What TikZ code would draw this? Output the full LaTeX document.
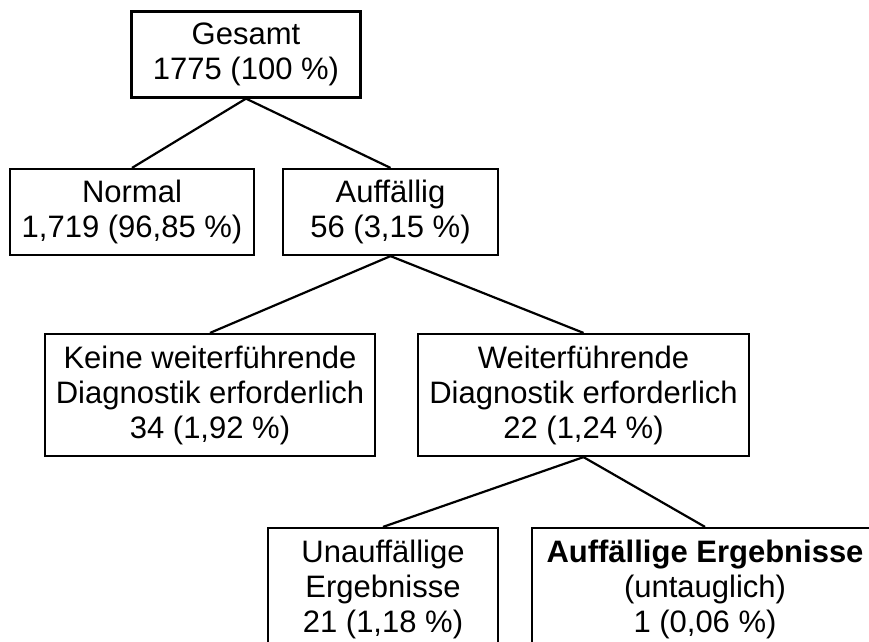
\documentclass[tikz,border=0pt]{standalone}
\usepackage{fontspec}
\setmainfont{Liberation Sans}
\begin{document}
\begin{tikzpicture}[x=1pt, y=-1pt, line width=2.2pt,
  box/.style={draw, align=center, inner sep=0pt, minimum height=86pt},
  tall/.style={box, minimum height=122pt}]
  \useasboundingbox (0,0) rectangle (869,641);
  \clip (0,0) rectangle (869,641);
  \fontsize{31}{35}\selectfont
  \node[box, minimum width=229pt] (ges) at (246,54.5) {Gesamt\\1775 (100 \%)};
  \node[box, minimum width=244pt] (nor) at (132,212) {Normal\\1,719 (96,85 \%)};
  \node[box, minimum width=215pt] (auf) at (390.5,212) {Auffällig\\56 (3,15 \%)};
  \node[tall, minimum width=330pt] (kei) at (210,395) {Keine weiterführende\\Diagnostik erforderlich\\34 (1,92 \%)};
  \node[tall, minimum width=331pt] (wei) at (583.5,395) {Weiterführende\\Diagnostik erforderlich\\22 (1,24 \%)};
  \node[tall, minimum width=230pt] (una) at (383,589) {Unauffällige\\Ergebnisse\\21 (1,18 \%)};
  \node[tall, minimum width=346pt] (erg) at (705,589) {\textbf{Auffällige Ergebnisse}\\(untauglich)\\1 (0,06 \%)};
  \foreach \a/\b in {ges/nor, ges/auf, auf/kei, auf/wei, wei/una, wei/erg}
    \draw (\a.south) -- (\b.north);
\end{tikzpicture}
\end{document}
